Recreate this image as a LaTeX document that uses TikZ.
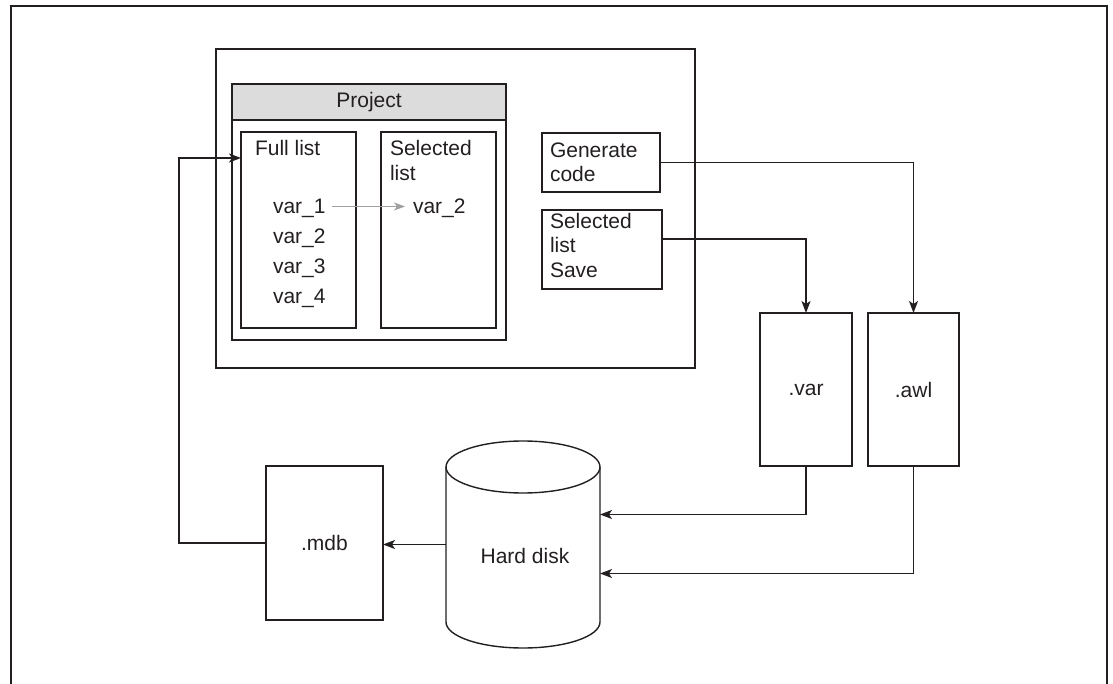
\documentclass[tikz,border=0pt]{standalone}
\usepackage{fontspec}
\setmainfont{Liberation Sans}
\usetikzlibrary{arrows.meta,calc}
\definecolor{ink}{HTML}{231F20}
\definecolor{headgray}{RGB}{220,220,220}
\definecolor{lightarrow}{RGB}{160,160,160}
\begin{document}
\begin{tikzpicture}[x=1pt,y=-1pt,
  box/.style={draw=ink, line width=1.4pt, inner sep=0pt, outer sep=0pt, font=\fontsize{21}{24}\selectfont, text=ink},
  txt/.style={inner sep=0pt, outer sep=0pt, text height=15pt, text depth=0pt, anchor=base west, font=\fontsize{21}{24}\selectfont, text=ink},
  arr/.style={draw=ink, line width=1.4pt, -{Stealth[length=12pt,width=9pt,inset=3pt]}},
  grayarr/.style={draw=lightarrow, line width=1.2pt, -{Stealth[length=11pt,width=8pt,inset=3pt]}}
]
\useasboundingbox (0,0) rectangle (1113,684);
% outer frame (open at the bottom)
\draw[ink, line width=2.2pt] (11,690) -- (11,6) -- (1107,6) -- (1107,690);

% main window
\node[box, minimum width=479pt, minimum height=319pt] (big) at (455.5,208.5) {};
\node[box, minimum width=274pt, minimum height=256pt] (proj) at (369,212) {};
\node[box, fill=headgray, minimum width=274pt, minimum height=36pt] (head) at (369,102) {Project};
\node[box, minimum width=115pt, minimum height=196pt] (full) at (298.5,230) {};
\node[box, minimum width=115pt, minimum height=196pt] (sel) at (438.5,230) {};
\node[box, minimum width=118pt, minimum height=59pt] (gen) at (601,162.5) {};
\node[box, minimum width=120pt, minimum height=79pt] (sav) at (602,249.5) {};

% texts in the window
\node[txt] (tfull) at (255,155.5) {Full list};
\node[txt] (tsel1) at (390,155.5) {Selected};
\node[txt] (tsel2) at (390,181) {list};
\node[txt] (var1) at (273,214) {var\_1};
\node[txt] (var2) at (273,244) {var\_2};
\node[txt] (var3) at (273,274) {var\_3};
\node[txt] (var4) at (273,304) {var\_4};
\node[txt] (var2b) at (413,214) {var\_2};
\node[txt] (tgen1) at (550,157.5) {Generate};
\node[txt] (tgen2) at (550,181.5) {code};
\node[txt] (tsav1) at (550,229) {Selected};
\node[txt] (tsav2) at (550,253) {list};
\node[txt] (tsav3) at (550,277.5) {Save};

% files
\node[box, minimum width=92pt, minimum height=153pt] (var) at (806,389.5) {.var};
\node[box, minimum width=91pt, minimum height=153pt] (awl) at (913.5,389.5) {.awl};
\node[box, minimum width=117pt, minimum height=154pt] (mdb) at (324.5,543) {.mdb};

% hard disk (cylinder)
\node[inner sep=0pt, outer sep=0pt, minimum width=154pt, minimum height=207pt] (disk) at (523,544.5) {};
\draw[ink, line width=1.4pt] (523,467) ellipse [x radius=77pt, y radius=26pt];
\draw[ink, line width=1.4pt] (446,467) -- (446,622)
   arc[start angle=180, end angle=360, x radius=77pt, y radius=26pt] -- (600,467);
\node[txt, anchor=center] (hd) at (525,556) {Hard disk};

% connectors
\draw[grayarr] ([xshift=6pt]var1.east) -- ([xshift=-8pt]var2b.west);
\draw[arr] (gen.east) -| (awl.north);
\draw[arr] ([yshift=10.5pt]sav.east) -| (var.north);
\draw[arr] (var.south) |- ([yshift=30pt]disk.east);
\draw[arr] (awl.south) |- ([yshift=-29pt]disk.east);
\draw[arr] (disk.west) -- (disk.west -| mdb.east);
\coordinate (lc) at (179,543);
\coordinate (fin) at ([yshift=-26pt]full.north west);
\draw[arr] (mdb.west) -- (lc) |- (fin);
\end{tikzpicture}
\end{document}
